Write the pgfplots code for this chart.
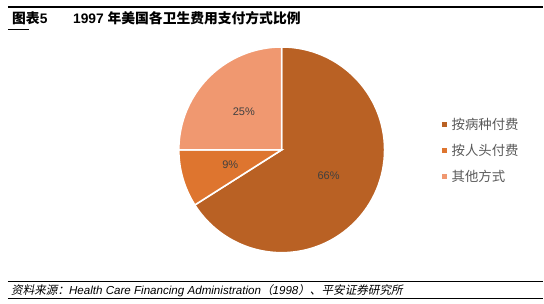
\documentclass[border=0pt]{standalone}
\usepackage{fontspec}
\setmainfont{Liberation Sans}
\newfontfamily\cjk{Noto Sans CJK SC}
\newfontfamily\cjkit[FakeSlant=0.2]{Noto Sans CJK SC}
\usepackage{pgfplots}
\usepackage{pgfplotstable}
\pgfplotsset{compat=1.18}

\definecolor{cA}{RGB}{185,97,36}
\definecolor{cB}{RGB}{222,117,47}
\definecolor{cC}{RGB}{240,152,112}
\definecolor{lbl}{RGB}{64,64,64}
\definecolor{leg}{RGB}{89,89,89}

% shares in percent: by disease, per capita, other
\pgfplotstableread{
share
66
9
25
}\pietable
\pgfplotstablegetelem{0}{share}\of\pietable \let\va\pgfplotsretval
\pgfplotstablegetelem{1}{share}\of\pietable \let\vb\pgfplotsretval
\pgfplotstablegetelem{2}{share}\of\pietable \let\vc\pgfplotsretval
\pgfmathsetmacro\aA{90}
\pgfmathsetmacro\aB{90-3.6*\va}
\pgfmathsetmacro\aC{\aB-3.6*\vb}
\pgfmathsetmacro\aD{\aC-3.6*\vc}
\pgfmathsetmacro\mA{(\aA+\aB)/2}
\pgfmathsetmacro\mB{(\aB+\aC)/2}
\pgfmathsetmacro\mC{(\aC+\aD)/2}

\begin{document}
\begin{tikzpicture}
\path (0,0) rectangle (544pt,-304pt);
% header
\draw[line width=1.2pt] (8pt,-7pt) -- (544pt,-7pt);
\draw[line width=1.5pt] (8pt,-29.5pt) -- (29pt,-29.5pt);
\node[anchor=base west, inner sep=0] at (12pt,-24pt)
  {\fontsize{13.8}{13.8}\selectfont{\bfseries\cjk 图表}{\bfseries 5}};
\node[anchor=base west, inner sep=0] at (73pt,-24pt)
  {\fontsize{13.8}{13.8}\selectfont{\bfseries 1997 }{\bfseries\cjk 年美国各卫生费用支付方式比例}};

\begin{axis}[
  at={(282pt,-150pt)}, anchor=center,
  width=206pt, height=206pt, scale only axis,
  xmin=-1, xmax=1, ymin=-1, ymax=1,
  hide axis, clip=false,
]
\filldraw[fill=cA, draw=white, line width=1.6pt] (axis cs:0,0) -- (axis cs:{cos(\aA)},{sin(\aA)})
  arc[start angle=\aA, end angle=\aB, radius=103pt] -- cycle;
\filldraw[fill=cB, draw=white, line width=1.6pt] (axis cs:0,0) -- (axis cs:{cos(\aB)},{sin(\aB)})
  arc[start angle=\aB, end angle=\aC, radius=103pt] -- cycle;
\filldraw[fill=cC, draw=white, line width=1.6pt] (axis cs:0,0) -- (axis cs:{cos(\aC)},{sin(\aC)})
  arc[start angle=\aC, end angle=\aD, radius=103pt] -- cycle;
\node[text=lbl, font=\fontsize{11}{11}\selectfont] at (axis cs:{0.52*cos(\mA)},{0.52*sin(\mA)}) {66\%};
\node[text=lbl, font=\fontsize{11}{11}\selectfont] at (axis cs:{0.52*cos(\mB)},{0.52*sin(\mB)}) {9\%};
\node[text=lbl, font=\fontsize{11}{11}\selectfont] at (axis cs:{0.52*cos(\mC)},{0.52*sin(\mC)}) {25\%};
\end{axis}

% legend
\fill[cA] (442pt,-122.5pt) rectangle (447pt,-127.5pt);
\fill[cB] (442pt,-148.5pt) rectangle (447pt,-153.5pt);
\fill[cC] (442pt,-174pt) rectangle (447pt,-179pt);
\node[anchor=west, inner sep=0, text=leg] at (452pt,-125pt) {\fontsize{13.4}{13.4}\selectfont\cjk 按病种付费};
\node[anchor=west, inner sep=0, text=leg] at (452pt,-151pt) {\fontsize{13.4}{13.4}\selectfont\cjk 按人头付费};
\node[anchor=west, inner sep=0, text=leg] at (452pt,-176.5pt) {\fontsize{13.4}{13.4}\selectfont\cjk 其他方式};

% footer
\draw[line width=1.2pt] (8pt,-282pt) -- (544pt,-282pt);
\draw[line width=1.2pt] (8pt,-299pt) -- (544pt,-299pt);
\node[anchor=base west, inner sep=0] at (11pt,-295pt)
  {\fontsize{11.6}{11.6}\selectfont{\cjkit 资料来源：}{\itshape Health Care Financing Administration}{\cjkit （}{\itshape 1998}{\cjkit ）、平安证券研究所}};
\end{tikzpicture}
\end{document}
